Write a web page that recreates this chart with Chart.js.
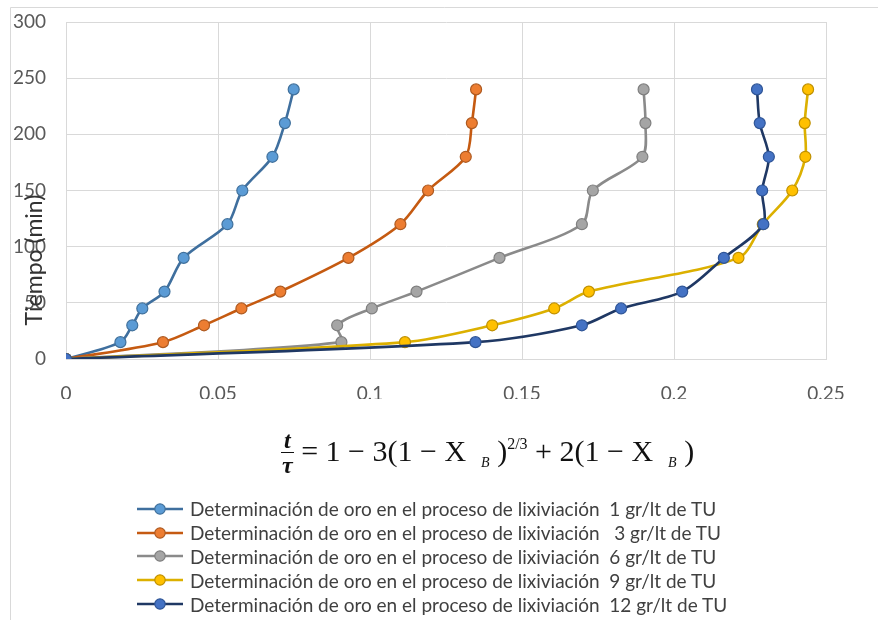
<!DOCTYPE html>
<html>
<head>
<meta charset="utf-8">
<script src="https://cdn.jsdelivr.net/npm/chart.js@4.4.1/dist/chart.umd.min.js"></script>
<style>
  html, body { margin: 0; padding: 0; background: #fff; }
  #wrap { position: relative; width: 888px; height: 628px; background: #fff; overflow: hidden; }
  #c { position: absolute; left: 0; top: 0; }
  #formula { position: absolute; left: 281px; top: 429px; font-family: 'Liberation Serif', 'DejaVu Serif', serif; font-size: 30px; color: #111; white-space: pre; display: flex; align-items: center; }
  #formula .frac { display: inline-flex; flex-direction: column; align-items: center; font-style: italic; font-size: 24px; line-height: 22px; margin-right: 0px; }
  #formula .frac .num { border-bottom: 1.6px solid #111; padding: 0 3px 1px 3px; font-weight: bold; }
  #formula .frac .den { padding-top: 1px; font-weight: bold; }
  #formula sub { font-size: 14px; font-style: italic; vertical-align: -6px; }
  #formula sup { font-size: 16px; vertical-align: 12px; }
  #legend { position: absolute; left: 137px; top: 497px; font-family: Lato, 'Liberation Sans', sans-serif; font-size: 19px; color: #404040; }
  #legend .row { display: flex; align-items: center; height: 23.8px; white-space: pre; }
  #legend svg { margin-right: 7px; flex: none; }
</style>
</head>
<body>
<div id="wrap">
  <canvas id="c" width="888" height="628"></canvas>
  <div id="formula"><span class="frac"><span class="num">t</span><span class="den">τ</span></span><span> = 1 − 3(1 − X  <sub>B</sub> )<sup>2/3</sup> + 2(1 − X  <sub>B</sub> )</span></div>
  <div id="legend"></div>
</div>
<script>
// ---- data ----
const timeMin = [0, 15, 30, 45, 60, 90, 120, 150, 180, 210, 240];
const seriesLabels = [
  'Determinación de oro en el proceso de lixiviación  1 gr/lt de TU',
  'Determinación de oro en el proceso de lixiviación   3 gr/lt de TU',
  'Determinación de oro en el proceso de lixiviación  6 gr/lt de TU',
  'Determinación de oro en el proceso de lixiviación  9 gr/lt de TU',
  'Determinación de oro en el proceso de lixiviación  12 gr/lt de TU'
];
const tu1  = [0, 0.0179, 0.0218, 0.0251, 0.0324, 0.0387, 0.0531, 0.0580, 0.0679, 0.0720, 0.0749];
const tu3  = [0, 0.0319, 0.0454, 0.0577, 0.0705, 0.0929, 0.1100, 0.1191, 0.1315, 0.1335, 0.1349];
const tu6  = [0, 0.0906, 0.0892, 0.1006, 0.1153, 0.1426, 0.1697, 0.1733, 0.1896, 0.1906, 0.1900];
const tu9  = [0, 0.1115, 0.1402, 0.1606, 0.1720, 0.2212, 0.2292, 0.2389, 0.2432, 0.2430, 0.2441];
const tu12 = [0, 0.1347, 0.1697, 0.1826, 0.2027, 0.2164, 0.2294, 0.2290, 0.2312, 0.2282, 0.2273];
const xTickValues = [0, 0.05, 0.1, 0.15, 0.2, 0.25];
const xTickLabels = ['0', '0,05', '0,1', '0,15', '0,2', '0,25'];
const yTickLabels = ['0', '50', '100', '150', '200', '250', '300'];
const yTitle = 'Tiempo (min)';

// ---- styles ----
const lineColors   = ['#3f6f9e', '#c55a11', '#8a8a8a', '#dcb000', '#1f3864'];
const markerFills  = ['#5b9bd5', '#ed7d31', '#a5a5a5', '#ffc000', '#4472c4'];
const markerEdges  = ['#41719c', '#ae5a21', '#7f7f7f', '#bf9000', '#2f5597'];
const seriesX = [tu1, tu3, tu6, tu9, tu12];

const datasets = seriesX.map((xs, i) => ({
  label: seriesLabels[i],
  data: xs.map((x, k) => ({ x: x, y: timeMin[k] })),
  showLine: true,
  borderColor: lineColors[i],
  backgroundColor: markerFills[i],
  pointBackgroundColor: markerFills[i],
  pointBorderColor: markerEdges[i],
  pointBorderWidth: 1.2,
  pointRadius: 5.5,
  borderWidth: 2.6,
  tension: 0.3,
  order: seriesX.length - 1 - i
}));

const extras = {
  id: 'extras',
  afterDraw(chart) {
    const ctx = chart.ctx;
    ctx.save();
    // outer chart frame (top/left visible in reference)
    ctx.strokeStyle = '#d9d9d9';
    ctx.lineWidth = 1;
    ctx.beginPath();
    ctx.moveTo(10.5, 620); ctx.lineTo(10.5, 7.5); ctx.lineTo(878, 7.5);
    ctx.stroke();
    // y axis title (overlaps tick labels in the reference)
    ctx.translate(35, 260);
    ctx.rotate(-Math.PI / 2);
    ctx.fillStyle = '#333';
    ctx.font = '23px Lato, "Liberation Sans", sans-serif';
    ctx.textAlign = 'center';
    ctx.textBaseline = 'middle';
    ctx.fillText(yTitle, 0, 0);
    ctx.restore();
  }
};

new Chart(document.getElementById('c'), {
  type: 'scatter',
  data: { datasets },
  plugins: [extras],
  options: {
    responsive: false,
    animation: false,
    devicePixelRatio: 1,
    layout: { padding: { left: 0, top: 22, right: 62, bottom: 229 } },
    plugins: { legend: { display: false }, tooltip: { enabled: false } },
    scales: {
      x: {
        type: 'linear', min: 0, max: 0.25,
        afterBuildTicks(s) { s.ticks = xTickValues.map(v => ({ value: v })); },
        afterFit(s) { s.height = 40; s.paddingLeft = 0; s.paddingRight = 0; },
        grid: { color: '#d9d9d9', drawTicks: false, lineWidth: 1 },
        border: { color: '#d9d9d9' },
        ticks: {
          padding: 23, color: '#595959',
          font: { family: 'Lato, "Liberation Sans", sans-serif', size: 19 },
          callback: (v, i) => xTickLabels[i]
        }
      },
      y: {
        type: 'linear', min: 0, max: 300,
        afterBuildTicks(s) { s.ticks = yTickLabels.map(t => ({ value: Number(t) })); },
        afterFit(s) { s.width = 66; s.paddingTop = 0; s.paddingBottom = 0; },
        grid: { color: '#d9d9d9', drawTicks: false, lineWidth: 1 },
        border: { color: '#d9d9d9' },
        ticks: {
          padding: 20, color: '#595959',
          font: { family: 'Lato, "Liberation Sans", sans-serif', size: 19 },
          callback: (v, i) => yTickLabels[i]
        }
      }
    }
  }
});

// ---- legend ----
const legend = document.getElementById('legend');
seriesLabels.forEach((lab, i) => {
  const row = document.createElement('div');
  row.className = 'row';
  row.innerHTML = '<svg width="46" height="14" viewBox="0 0 46 14">' +
    '<line x1="0" y1="7" x2="46" y2="7" stroke="' + lineColors[i] + '" stroke-width="2.5"/>' +
    '<circle cx="23" cy="7" r="5.2" fill="' + markerFills[i] + '" stroke="' + markerEdges[i] + '" stroke-width="1.2"/></svg>';
  const span = document.createElement('span');
  span.textContent = lab;
  row.appendChild(span);
  legend.appendChild(row);
});
</script>
</body>
</html>
